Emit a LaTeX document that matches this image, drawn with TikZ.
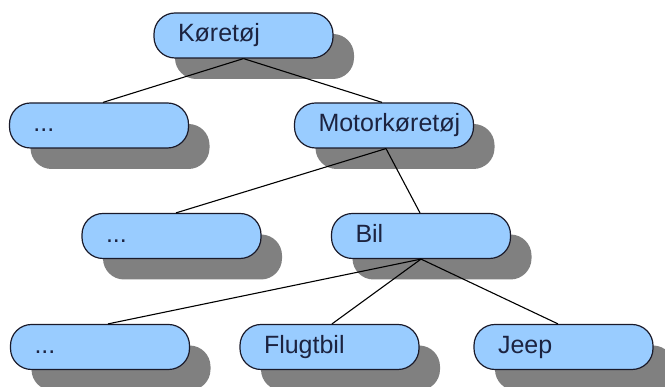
\documentclass[tikz,border=0pt]{standalone}
\usepackage{fontspec}
\setmainfont{Liberation Sans}
\usetikzlibrary{shadows}
\definecolor{boxfill}{HTML}{99CCFF}
\definecolor{boxline}{HTML}{1A1A2A}
\definecolor{boxtext}{HTML}{1C2340}
\definecolor{shadowgray}{HTML}{808080}
\begin{document}
\begin{tikzpicture}[x=1pt,y=1pt,
  vbox/.style={draw=boxline, line width=1.2pt, fill=boxfill, rounded corners=21pt,
    minimum width=179pt, minimum height=45pt, inner xsep=24pt, inner ysep=0pt,
    text width=131pt, align=left, text height=18pt, text depth=5pt,
    font=\fontsize{25}{30}\selectfont, text=boxtext,
    drop shadow={shadow xshift=21pt, shadow yshift=-21pt, fill=shadowgray, opacity=1}},
  link/.style={draw=black, line width=1.1pt}]
\useasboundingbox (0,0) rectangle (665,387);
\node[vbox] (k) at (243.5,351.5) {Køretøj};
\node[vbox] (l2a) at (99,261.5) {...};
\node[vbox] (mk) at (384,261.5) {Motorkøretøj};
\node[vbox] (l3a) at (171.5,151) {...};
\node[vbox] (bil) at (421,151) {Bil};
\node[vbox] (l4a) at (100,40) {...};
\node[vbox] (fb) at (329.5,40) {Flugtbil};
\node[vbox] (jp) at (563.5,40) {Jeep};
\draw[link] (k.south) -- ([xshift=4pt]l2a.north);
\draw[link] (k.south) -- ([xshift=-2pt]mk.north);
\draw[link] ([xshift=2pt]mk.south) -- ([xshift=4.5pt]l3a.north);
\draw[link] ([xshift=2pt]mk.south) -- ([xshift=-1pt]bil.north);
\draw[link] (bil.south) -- ([xshift=8pt]l4a.north);
\draw[link] (bil.south) -- ([xshift=2.5pt]fb.north);
\draw[link] (bil.south) -- ([xshift=-5.5pt]jp.north);
\end{tikzpicture}
\end{document}
